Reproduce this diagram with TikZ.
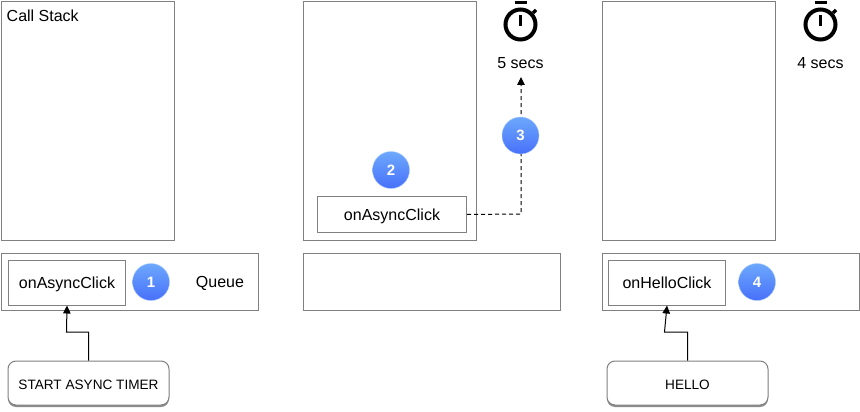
\documentclass[tikz,border=0pt]{standalone}
\usepackage{fontspec}
\setmainfont{Liberation Sans}
\usetikzlibrary{arrows.meta,shadows,calc}
\tikzset{
  box/.style={draw=black!50,line width=1pt,fill=white,inner sep=0pt,anchor=north west},
  boxtext/.style={font=\fontsize{16}{18}\selectfont,text height=14pt,text depth=2.6pt},
  btn/.style={draw=black!50,line width=1pt,fill=white,rounded corners=8pt,inner sep=0pt,text height=12.5pt,text depth=0pt,font=\fontsize{13.6}{15}\selectfont,
     drop shadow={shadow xshift=0pt,shadow yshift=-2pt,fill=black!60,opacity=.75}},
  badge/.style={circle,minimum size=37pt,inner sep=0pt,top color=blue1,bottom color=blue2,draw=blue1!60!white,line width=.4pt,text=white,font=\fontsize{15}{17}\selectfont\bfseries},
  lbl/.style={inner sep=0pt,font=\fontsize{16}{18}\selectfont},
  conn/.style={line width=1pt,-{Triangle[length=8pt,width=7.5pt]}},
  dconn/.style={line width=1pt,dash pattern=on 4pt off 3pt,-{Triangle[length=8pt,width=7.5pt]}},
  watchring/.style={circle,draw=black,line width=4pt,minimum size=30pt,inner sep=0pt},
  watchpart/.style={draw=black,line width=3.5pt},
}
\definecolor{blue1}{RGB}{108,168,252}
\definecolor{blue2}{RGB}{72,112,250}
\begin{document}
\begin{tikzpicture}[x=1pt,y=-1pt]
\useasboundingbox (0,0) rectangle (860,412);
% stacks
\node[box,minimum width=173pt,minimum height=239pt] (stackA) at (1,1) {};
\node[box,minimum width=173pt,minimum height=239pt] (stackB) at (303,1) {};
\node[box,minimum width=173pt,minimum height=239pt] (stackC) at (602,1) {};
\node[lbl,anchor=north west] (title) at (6.5,10) {Call Stack};
% queues
\node[box,minimum width=257pt,minimum height=57pt] (queueA) at (1,253) {};
\node[box,minimum width=257pt,minimum height=57pt] (queueB) at (303,253) {};
\node[box,minimum width=257pt,minimum height=57pt] (queueC) at (602,253) {};
\node[lbl,boxtext] (queuelabel) at (220,282) {Queue};
% inner
\node[box,boxtext,minimum width=117pt,minimum height=45pt] (innerA) at (8,259.5) {onAsyncClick};
\node[box,boxtext,minimum width=149pt,minimum height=36pt] (innerB) at (317,196) {onAsyncClick};
\node[box,boxtext,minimum width=117pt,minimum height=45pt] (innerC) at (608,259.5) {onHelloClick};
% buttons
\node[btn,minimum width=161pt,minimum height=44pt] (btnA) at (88.5,383) {START ASYNC TIMER};
\node[btn,minimum width=161pt,minimum height=44pt] (btnC) at (687.5,383) {HELLO};
% connectors
\coordinate (bendA) at (66.5,332);
\coordinate (bendC) at (664.5,332);
\draw[conn] (btnA.north) |- (bendA) -- (innerA.south);
\draw[conn] (btnC.north) |- (bendC) -- (innerC.south);
\coordinate (corner) at (521,214);
\coordinate (timerEnd) at (521,77);
\draw[dconn] (innerB.east) -- (corner) -- (timerEnd);
% badges
\node[badge] (b1) at (151,282) {1};
\node[badge] (b2) at (391,170) {2};
\node[badge] (b3) at (520.5,135.5) {3};
\node[badge] (b4) at (757,282) {4};
% timers
\foreach \cx/\nm/\txt in {520.5/five/5 secs,820.5/four/4 secs}{
  \node[watchring] (ring\nm) at (\cx,24.5) {};
  \draw[watchpart] ($(ring\nm.center)+(0,-9.5)$) -- ($(ring\nm.center)+(0,1.5)$);
  \draw[watchpart] ($(ring\nm.center)+(-6,-22)$) -- ($(ring\nm.center)+(6,-22)$);
  \draw[watchpart] ($(ring\nm.center)+(12.5,-11.5)$) -- ($(ring\nm.center)+(15.5,-14.5)$);
  \node[lbl] (t\nm) at (\cx,63) {\txt};
}
\end{tikzpicture}
\end{document}
